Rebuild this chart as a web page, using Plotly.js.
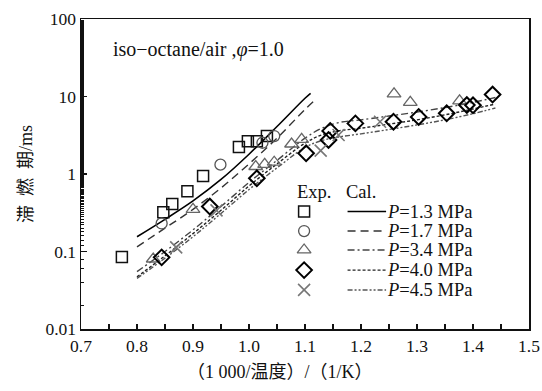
<!DOCTYPE html>
<html>
<head>
<meta charset="utf-8">
<script src="https://cdn.plot.ly/plotly-3.0.1.min.js"></script>
<style>html,body{margin:0;padding:0;background:#fff;}#chart{width:542px;height:391px;}</style>
</head>
<body>
<div id="chart"></div>
<script>
// Experimental points (Exp.)
const expX_13 = [0.773, 0.847, 0.863, 0.890, 0.918, 0.982, 0.998, 1.014, 1.032];
const expY_13 = [0.085, 0.32, 0.41, 0.60, 0.94, 2.23, 2.64, 2.64, 3.09];
const expX_17 = [0.844, 0.949, 1.024, 1.045];
const expY_17 = [0.23, 1.32, 2.53, 3.09];
const expX_34 = [0.829, 0.900, 1.012, 1.028, 1.045, 1.076, 1.094, 1.259, 1.288, 1.376];
const expY_34 = [0.08, 0.35, 1.25, 1.33, 1.42, 2.44, 2.8, 10.8, 8.4, 8.8];
const expX_40 = [0.844, 0.930, 1.014, 1.102, 1.142, 1.145, 1.190, 1.258, 1.303, 1.353, 1.389, 1.400, 1.435];
const expY_40 = [0.084, 0.38, 0.88, 1.85, 2.75, 3.6, 4.5, 4.73, 5.45, 6.07, 7.77, 7.7, 10.6];
const expX_45 = [0.870, 0.942, 1.128, 1.160, 1.234];
const expY_45 = [0.113, 0.34, 2.0, 3.19, 4.73];

// Calculated curves (Cal.)
const calX_13 = [0.80, 0.85, 0.90, 0.95, 1.00, 1.05, 1.10, 1.11];
const calY_13 = [0.155, 0.26, 0.45, 0.85, 1.8, 4.1, 9.5, 11.0];
const calX_17 = [0.80, 0.85, 0.90, 0.95, 1.00, 1.05, 1.10, 1.12];
const calY_17 = [0.115, 0.2, 0.35, 0.66, 1.35, 2.9, 6.8, 9.3];
const calX_low = [0.80, 0.85, 0.90, 0.95, 1.00, 1.05, 1.10, 1.13, 1.16, 1.20, 1.25, 1.30, 1.35, 1.40, 1.44];
const calY_34 = [0.055, 0.10, 0.19, 0.38, 0.78, 1.5, 2.9, 3.9, 4.6, 5.0, 5.6, 6.3, 7.2, 8.4, 9.7];
const calY_40 = [0.047, 0.088, 0.17, 0.34, 0.70, 1.35, 2.5, 3.2, 3.6, 3.9, 4.4, 5.0, 5.8, 6.9, 8.0];
const calY_45 = [0.045, 0.082, 0.155, 0.31, 0.63, 1.2, 2.2, 2.7, 3.0, 3.3, 3.75, 4.3, 5.0, 6.0, 7.1];

// Legend / labels
const seriesLabels = ['=1.3 MPa', '=1.7 MPa', '=3.4 MPa', '=4.0 MPa', '=4.5 MPa'];
const yTickVals = [0.01, 0.1, 1, 10, 100];
const yTickText = ['0.01', '0.1', '1', '10', '100'];
const xTitle = '（1 000/温度）/（1/K）';
const yTitle = '滞\u2002燃\u2002期/ms';
const noteText = 'iso−octane/air ,<i>φ</i>=1.0';

const FONT = 'Liberation Serif, Times New Roman, Noto Sans CJK SC, serif';
const markerStyles = [
  {symbol: 'square-open', size: 11, color: '#111', line: {width: 1.5, color: '#111'}},
  {symbol: 'circle-open', size: 11, color: '#555', line: {width: 1.3, color: '#555'}},
  {symbol: 'triangle-up-open', size: 12, color: '#666', line: {width: 1.3, color: '#666'}},
  {symbol: 'diamond-open', size: 12, color: '#000', line: {width: 2, color: '#000'}},
  {symbol: 'x-thin-open', size: 12, color: '#777', line: {width: 1.6, color: '#777'}}
];
const lineStyles = [
  {color: '#000', width: 1.6, dash: 'solid'},
  {color: '#333', width: 1.4, dash: '8px,5px'},
  {color: '#444', width: 1.4, dash: '7px,3px,2px,3px'},
  {color: '#222', width: 1.4, dash: '3px,2px'},
  {color: '#555', width: 1.4, dash: '5px,2px,2px,2px,2px,2px'}
];

const expX = [expX_13, expX_17, expX_34, expX_40, expX_45];
const expY = [expY_13, expY_17, expY_34, expY_40, expY_45];
const calX = [calX_13, calX_17, calX_low, calX_low, calX_low];
const calY = [calY_13, calY_17, calY_34, calY_40, calY_45];

const traces = [];
for (let i = 0; i < 5; i++) {
  traces.push({x: calX[i], y: calY[i], mode: 'lines', line: Object.assign({shape: 'spline'}, lineStyles[i]), showlegend: false, hoverinfo: 'skip'});
}
for (let i = 0; i < 5; i++) {
  traces.push({x: expX[i], y: expY[i], mode: 'markers', marker: markerStyles[i], showlegend: false});
}

// Legend drawn on an overlay axis (0..1 fractions of the plot area)
const legMarkerX = 0.498;
const legLineX0 = 0.595, legLineX1 = 0.681;
const legRowsY = [0.379, 0.316, 0.255, 0.190, 0.126];
const annotations = [];
const LEGFONT = {family: FONT, size: 18.5, color: '#111'};
for (let i = 0; i < 5; i++) {
  traces.push({x: [legMarkerX], y: [legRowsY[i]], xaxis: 'x2', yaxis: 'y2', mode: 'markers', marker: markerStyles[i], showlegend: false, hoverinfo: 'skip'});
  traces.push({x: [legLineX0, legLineX1], y: [legRowsY[i], legRowsY[i]], xaxis: 'x2', yaxis: 'y2', mode: 'lines', line: lineStyles[i], showlegend: false, hoverinfo: 'skip'});
  annotations.push({xref: 'paper', yref: 'paper', x: 0.681, y: legRowsY[i], xanchor: 'left', yanchor: 'middle', showarrow: false,
    text: '<i>P</i>' + seriesLabels[i], font: LEGFONT, borderpad: 0});
}
annotations.push({xref: 'paper', yref: 'paper', x: 0.477, y: 0.443, xanchor: 'left', yanchor: 'middle', showarrow: false,
  text: 'Exp.', font: LEGFONT});
annotations.push({xref: 'paper', yref: 'paper', x: 0.588, y: 0.443, xanchor: 'left', yanchor: 'middle', showarrow: false,
  text: 'Cal.', font: LEGFONT});
annotations.push({xref: 'paper', yref: 'paper', x: 0.066, y: 0.9, xanchor: 'left', yanchor: 'middle', showarrow: false,
  text: noteText, font: {family: FONT, size: 20, color: '#111'}});
// x-axis title (centred where the original places it)
annotations.push({xref: 'paper', yref: 'paper', x: 0.444, y: -0.139, xanchor: 'center', yanchor: 'middle', showarrow: false,
  text: xTitle, font: {family: FONT, size: 18, color: '#111'}});

const layout = {
  width: 542, height: 391,
  margin: {l: 81, r: 13, t: 19, b: 62},
  paper_bgcolor: '#fff', plot_bgcolor: '#fff',
  font: {family: FONT, size: 17, color: '#111'},
  showlegend: false,
  xaxis: {
    range: [0.7, 1.5], dtick: 0.1, tick0: 0.7, tickformat: '.1f',
    ticks: 'inside', ticklen: 5, tickwidth: 1.2, tickcolor: '#111',
    minor: {dtick: 0.05, ticks: 'inside', ticklen: 5, tickwidth: 1.2, tickcolor: '#111', showgrid: false},
    showline: true, linecolor: '#111', linewidth: 1.5, mirror: true,
    showgrid: false, zeroline: false,
    tickfont: {family: FONT, size: 17.5, color: '#111'}
  },
  yaxis: {
    type: 'log', range: [-2, 2], tickvals: yTickVals, ticktext: yTickText,
    ticks: 'inside', ticklen: 6, tickwidth: 1.2, tickcolor: '#111',
    minor: {ticks: 'inside', ticklen: 3, tickwidth: 1, tickcolor: '#111', showgrid: false},
    showline: true, linecolor: '#111', linewidth: 1.5, mirror: true,
    showgrid: false, zeroline: false,
    tickfont: {family: FONT, size: 17.5, color: '#111'},
    title: {text: yTitle, font: {family: FONT, size: 18, color: '#111'}, standoff: 8}
  },
  xaxis2: {overlaying: 'x', range: [0, 1], visible: false, fixedrange: true},
  yaxis2: {overlaying: 'y', range: [0, 1], visible: false, fixedrange: true},
  annotations: annotations
};

Plotly.newPlot('chart', traces, layout, {displayModeBar: false, staticPlot: true});
</script>
</body>
</html>
